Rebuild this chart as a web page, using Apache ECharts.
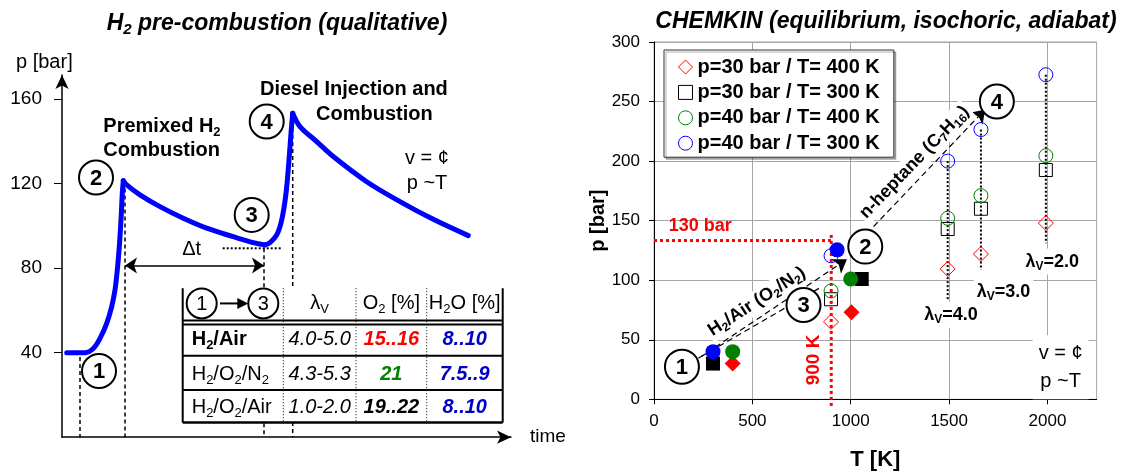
<!DOCTYPE html>
<html><head><meta charset="utf-8">
<script src="https://cdn.jsdelivr.net/npm/echarts@6/dist/echarts.min.js"></script>
<style>html,body{margin:0;padding:0;background:#fff}#c{width:1127px;height:472px}</style>
</head><body><div id="c"></div>
<script>
// ===================== DATA =====================
// Left panel: qualitative pressure trace (time in arbitrary units, p in bar)
const leftYTicks = [40, 80, 120, 160];
const traceTime = [4.7, 23, 31.3, 38, 44.7, 49.7, 53, 55.3, 57.3, 59, 60.3, 61.3,
  64.7, 78, 98, 121.3, 144.7, 171.3, 191.3, 203,
  208, 214.7, 219.7, 224, 227, 229, 230.7,
  238, 254.7, 271.3, 304.7, 338, 371.3, 406.3];
const tracePressure = [40, 40, 42, 46.8, 53.9, 61.8, 69.7, 79.1, 90.2, 102.8, 115.4, 121.4,
  119.4, 114.7, 109.1, 103.6, 98.9, 94.9, 92.1, 91,
  92.1, 95.7, 102.8, 115.4, 131.2, 143.9, 153.3,
  147, 139.9, 132.8, 120.9, 111.5, 103.1, 95.4];
// trace segments: 1->2, 2->3, 3->4, after 4 (index of first/last point)
const traceSegments = [[0, 11], [11, 19], [19, 26], [26, 33]];
const stageLabels = ['1', '2', '3', '4'];
const leftStageT = [37, 34, 189.7, 204.7];
const leftStageP = [31.3, 122.9, 105.2, 149.4];
const eventT = [18, 63, 202, 230.7];
const eventTopP = [38, 121, 89.4, 153];
const dtLevelP = 81.2;
const state3P = 89.4;
const state3LineT = [160.7, 219.7];
const leftNoteText = ['Premixed H_{2}\nCombustion', 'Diesel Injection and', 'Combustion', 'v = ¢\np ~T', 'Δt'];
const leftNoteT = [41.3, 198, 254, 365, 129.7];
const leftNoteP = [141.3, 164.4, 152.5, 125.8, 88.6];

// Table
const tableHead = ['λ_{V}', 'O_{2} [%]', 'H_{2}O [%]'];
const tableMix = ['H_{2}/Air', 'H_{2}/O_{2}/N_{2}', 'H_{2}/O_{2}/Air'];
const tableLambda = ['4.0-5.0', '4.3-5.3', '1.0-2.0'];
const tableO2 = ['15..16', '21', '19..22'];
const tableH2O = ['8..10', '7.5..9', '8..10'];

// Right panel: CHEMKIN results
const groupNames = ['p=30 bar / T= 400 K', 'p=30 bar / T= 300 K', 'p=40 bar / T= 400 K', 'p=40 bar / T= 300 K'];
const openT = [900, 1493, 1662, 1992];
const openP = [
  [65, 109.5, 122, 148],
  [84, 143, 160, 192.5],
  [91, 152, 171, 204.5],
  [120.5, 200, 226.5, 272.5]
];
const filledT = [[400, 1004], [300, 1056], [400, 1000], [300, 931]];
const filledP = [[30, 73], [30, 101], [40, 101], [40, 125.5]];
const xTicks = [0, 500, 1000, 1500, 2000];
const yTicks = [0, 50, 100, 150, 200, 250, 300];
const lambdaT = [1493, 1662, 1992];
const lambdaTopP = [200, 226.5, 272.5];
const lambdaBottomP = [83, 108.7, 131];
const rightStageT = [142, 1074, 760, 1743];
const rightStageP = [27.4, 128.2, 79.2, 250];
const rightNoteText = ['130 bar', '900 K', 'H_{2}/Air (O_{2}/N_{2})', 'n-heptane (C_{7}H_{16})', 'λ_{V}=4.0', 'λ_{V}=3.0', 'λ_{V}=2.0', 'v = ¢\np ~T'];
const rightNoteT = [235, 811, 523, 1324, 1510, 1777, 2025, 2067];
const rightNoteP = [145.6, 33, 82, 199, 71, 90.4, 115.6, 27];
const limitP = 133.3, limitT = 901;
const arrowA = [[226, 34.4], [981, 117.6]];
const lineB = [[240, 36], [854, 94.6]];
const arrowC = [[1116, 145], [1684, 243.4]];

// ===================== RENDER =====================
const FONT = '"Liberation Sans", Arial, Helvetica, sans-serif';
const chart = echarts.init(document.getElementById('c'));

function richify(str) {
  let out = '', last = 0, m;
  const re = /_\{([^}]*)\}/g;
  while ((m = re.exec(str))) {
    if (m.index > last) out += '{b|' + str.slice(last, m.index) + '}';
    out += '{s|' + m[1] + '}';
    last = re.lastIndex;
  }
  if (last < str.length) out += '{b|' + str.slice(last) + '}';
  return out;
}
function rich(size, weight, style, color, lh) {
  const L = lh || size + 4;
  return {
    b: {fontSize: size, fontWeight: weight, fontStyle: style, fontFamily: FONT, fill: color, lineHeight: L},
    s: {fontSize: Math.round(size * 0.66), fontWeight: weight, fontStyle: style, fontFamily: FONT, fill: color, lineHeight: L, padding: [Math.round(size * 0.55), 0, 0, 0]}
  };
}
function textEl(pt, str, opt) {
  return {
    type: 'text', x: pt[0], y: pt[1], rotation: (opt.rot || 0) * Math.PI / 180,
    style: {
      text: richify(str), rich: rich(opt.size, opt.weight || 'normal', opt.style || 'normal', opt.color || '#000', opt.lh),
      align: opt.align || 'center', verticalAlign: 'middle',
      backgroundColor: opt.bg || null, padding: opt.pad || 0
    }
  };
}
function circledNumbers(xAxisIndex, yAxisIndex, ts, ps) {
  return {
    type: 'custom', xAxisIndex: xAxisIndex, yAxisIndex: yAxisIndex, z: 9, clip: false,
    data: ts.map((t, i) => [t, ps[i]]),
    renderItem: (params, api) => {
      const pt = api.coord([api.value(0), api.value(1)]);
      return {type: 'group', children: [
        {type: 'circle', shape: {cx: pt[0], cy: pt[1], r: 17}, style: {fill: '#fff', stroke: '#000', lineWidth: 2}},
        {type: 'text', x: pt[0], y: pt[1] + 1, style: {text: stageLabels[params.dataIndex], fontSize: 22, fontWeight: 'bold', fontFamily: FONT, fill: '#000', align: 'center', verticalAlign: 'middle'}}
      ]};
    }
  };
}

const colors = ['#ff0000', '#000000', '#008000', '#0000ff'];
const symbols = ['diamond', 'rect', 'circle', 'circle'];
const openSize = [[15, 15], [13, 13], [14, 14], [14, 14]];
const fillSize = [[16, 16], [14, 14], [15, 15], [15, 15]];

const series = [];
// ---------- Left panel ----------
eventT.forEach((t, i) => series.push({
  type: 'line', xAxisIndex: 0, yAxisIndex: 0, symbol: 'none', z: 2, silent: true,
  data: [[t, eventTopP[i]], [t, 0]],
  lineStyle: {color: '#000', width: 1.5, type: [4, 3]}
}));
series.push({
  type: 'line', xAxisIndex: 0, yAxisIndex: 0, symbol: 'none', z: 2,
  data: [[state3LineT[0], state3P], [state3LineT[1], state3P]],
  lineStyle: {color: '#000', width: 2, type: [2, 2]}
});
series.push({
  type: 'lines', coordinateSystem: 'cartesian2d', xAxisIndex: 0, yAxisIndex: 0, z: 3,
  symbol: ['arrow', 'arrow'], symbolSize: [12, 12],
  data: [{coords: [[eventT[1], dtLevelP], [eventT[2], dtLevelP]]}],
  lineStyle: {color: '#000', width: 1.5, opacity: 1}
});
traceSegments.forEach(([a, b]) => series.push({
  type: 'line', xAxisIndex: 0, yAxisIndex: 0, symbol: 'none', z: 4, smooth: 0.35,
  data: traceTime.slice(a, b + 1).map((t, i) => [t, tracePressure[a + i]]),
  lineStyle: {color: '#0000ff', width: 5, join: 'round', cap: 'round'}
}));
series.push({
  type: 'custom', xAxisIndex: 0, yAxisIndex: 0, z: 6,
  data: leftNoteT.map((t, i) => [t, leftNoteP[i]]),
  renderItem: (params, api) => {
    const i = params.dataIndex;
    const pt = api.coord([api.value(0), api.value(1)]);
    const spec = [
      {size: 20, weight: 'bold', align: 'left', lh: 24},
      {size: 20, weight: 'bold', align: 'left'},
      {size: 20, weight: 'bold', align: 'left'},
      {size: 20, align: 'center', lh: 25},
      {size: 20, align: 'center'}
    ][i];
    return textEl(pt, leftNoteText[i], spec);
  }
});
// Table
const tColT = [120.7, 221.3, 294, 364.7, 440.7];
const tLineP = [70.5, 55.2, 53.3, 38.6, 22.3, 6.9];
const tHeadP = 63.3, tRowP = [46.2, 29.7, 13.9];
series.push({
  type: 'custom', xAxisIndex: 0, yAxisIndex: 0, z: 8,
  data: [[tColT[0], tLineP[0]]],
  renderItem: (params, api) => {
    const c = (t, p) => api.coord([t, p]);
    const ch = [];
    const tl = c(tColT[0], tLineP[0]), br = c(tColT[4], tLineP[5]);
    ch.push({type: 'rect', shape: {x: tl[0], y: tl[1], width: br[0] - tl[0], height: br[1] - tl[1]}, style: {fill: '#fff'}});
    const hline = (p, w) => {const a = c(tColT[0], p), b = c(tColT[4], p); ch.push({type: 'line', shape: {x1: a[0], y1: a[1], x2: b[0], y2: b[1]}, style: {stroke: '#000', lineWidth: w}});};
    const vline = (t, w, dash) => {const a = c(t, tLineP[0]), b = c(t, tLineP[5]); ch.push({type: 'line', shape: {x1: a[0], y1: a[1], x2: b[0], y2: b[1]}, style: {stroke: '#000', lineWidth: w, lineDash: dash || null}});};
    hline(tLineP[1], 2); hline(tLineP[2], 2); hline(tLineP[3], 2); hline(tLineP[4], 2); hline(tLineP[5], 2.5);
    vline(tColT[0], 2); vline(tColT[4], 2);
    vline(tColT[1], 1, [1, 2]); vline(tColT[2], 1, [1, 2]); vline(tColT[3], 1, [1, 2]);
    // header: (1) -> (3)
    const c1 = c(139.7, tHeadP), c3 = c(201.3, tHeadP);
    [[c1, '1'], [c3, '3']].forEach(([pt, s]) => {
      ch.push({type: 'circle', shape: {cx: pt[0], cy: pt[1], r: 15}, style: {fill: '#fff', stroke: '#000', lineWidth: 2}});
      ch.push({type: 'text', x: pt[0], y: pt[1] + 1, style: {text: s, fontSize: 20, fontFamily: FONT, fill: '#000', align: 'center', verticalAlign: 'middle'}});
    });
    const a0 = c(158, tHeadP), a1 = c(186.3, tHeadP);
    ch.push({type: 'line', shape: {x1: a0[0], y1: a0[1], x2: a1[0] - 9, y2: a1[1]}, style: {stroke: '#000', lineWidth: 2}});
    ch.push({type: 'polygon', shape: {points: [[a1[0], a1[1]], [a1[0] - 11, a1[1] - 5.5], [a1[0] - 11, a1[1] + 5.5]]}, style: {fill: '#000'}});
    const centers = [(tColT[1] + tColT[2]) / 2, (tColT[2] + tColT[3]) / 2, (tColT[3] + tColT[4]) / 2];
    tableHead.forEach((h, j) => ch.push(textEl(c(centers[j], tHeadP), h, {size: 20})));
    tableMix.forEach((m, r) => ch.push(textEl(c(tColT[0] + 9, tRowP[r]), m, {size: 20, weight: r === 0 ? 'bold' : 'normal', align: 'left'})));
    tableLambda.forEach((v, r) => ch.push(textEl(c(centers[0], tRowP[r]), v, {size: 20, style: 'italic'})));
    const o2c = ['#ff0000', '#008000', '#000000'];
    tableO2.forEach((v, r) => ch.push(textEl(c(centers[1], tRowP[r]), v, {size: 20, style: 'italic', weight: 'bold', color: o2c[r]})));
    tableH2O.forEach((v, r) => ch.push(textEl(c(centers[2], tRowP[r]), v, {size: 20, style: 'italic', weight: 'bold', color: '#0000cc'})));
    return {type: 'group', children: ch};
  }
});
series.push(circledNumbers(0, 0, leftStageT, leftStageP));

// ---------- Right panel ----------
lambdaT.forEach((t, i) => series.push({
  type: 'line', xAxisIndex: 1, yAxisIndex: 1, symbol: 'none', z: 2,
  data: [[t, lambdaTopP[i]], [t, lambdaBottomP[i]]],
  lineStyle: {color: '#000', width: 2, type: [2, 2]}
}));
series.push({
  type: 'line', xAxisIndex: 1, yAxisIndex: 1, symbol: 'none', z: 2, clip: false,
  data: [[0, limitP], [912, limitP]],
  lineStyle: {color: '#ff0000', width: 3, type: [3, 3]}
});
series.push({
  type: 'line', xAxisIndex: 1, yAxisIndex: 1, symbol: 'none', z: 2, clip: false,
  data: [[limitT, 138], [limitT, -7]],
  lineStyle: {color: '#ff0000', width: 3, type: [3, 3]}
});
series.push({
  type: 'lines', coordinateSystem: 'cartesian2d', xAxisIndex: 1, yAxisIndex: 1, z: 3,
  symbol: ['none', 'arrow'], symbolSize: [11, 13],
  data: [{coords: arrowA}, {coords: arrowC}],
  lineStyle: {color: '#000', width: 1.2, type: [6, 4], opacity: 1}
});
series.push({
  type: 'lines', coordinateSystem: 'cartesian2d', xAxisIndex: 1, yAxisIndex: 1, z: 3,
  symbol: ['none', 'none'],
  data: [{coords: lineB}],
  lineStyle: {color: '#000', width: 1.2, type: [6, 4], opacity: 1}
});
groupNames.forEach((n, g) => {
  series.push({
    name: n, type: 'scatter', xAxisIndex: 1, yAxisIndex: 1, z: 5,
    symbol: symbols[g], symbolSize: openSize[g],
    data: openT.map((t, i) => [t, openP[g][i]]),
    itemStyle: {color: 'rgba(255,255,255,0)', borderColor: colors[g], borderWidth: 1, opacity: 1}
  });
  series.push({
    name: n + ' (2)', type: 'scatter', xAxisIndex: 1, yAxisIndex: 1, z: 5,
    symbol: symbols[g], symbolSize: fillSize[g],
    data: filledT[g].map((t, i) => [t, filledP[g][i]]),
    itemStyle: {color: colors[g], opacity: 1}
  });
});
series.push({
  type: 'custom', xAxisIndex: 1, yAxisIndex: 1, z: 6,
  data: rightNoteT.map((t, i) => [t, rightNoteP[i]]),
  renderItem: (params, api) => {
    const i = params.dataIndex;
    const pt = api.coord([api.value(0), api.value(1)]);
    const spec = [
      {size: 18, weight: 'bold', color: '#ff0000'},
      {size: 19, weight: 'bold', color: '#ff0000', rot: 90},
      {size: 18, weight: 'bold', rot: 33, bg: '#fff', pad: [0, 2]},
      {size: 18, weight: 'bold', rot: 46, bg: '#fff', pad: [0, 2]},
      {size: 18, weight: 'bold', bg: '#fff', pad: [2, 3]},
      {size: 18, weight: 'bold', bg: '#fff', pad: [2, 3]},
      {size: 18, weight: 'bold', bg: '#fff', pad: [2, 3]},
      {size: 20, bg: '#fff', pad: [4, 6], lh: 28}
    ][i];
    return textEl(pt, rightNoteText[i], spec);
  }
});
series.push(circledNumbers(1, 1, rightStageT, rightStageP));

const titleRich = (size) => ({
  b: {fontSize: size, fontWeight: 'bold', fontStyle: 'italic', fontFamily: FONT, color: '#000'},
  s: {fontSize: Math.round(size * 0.66), fontWeight: 'bold', fontStyle: 'italic', fontFamily: FONT, color: '#000', padding: [12, 0, 0, 0]}
});

chart.setOption({
  animation: false,
  backgroundColor: '#fff',
  textStyle: {fontFamily: FONT},
  title: [
    {text: '{b|H}{s|2}{b| pre-combustion (qualitative)}', left: 277, top: 10, textAlign: 'center', padding: 0,
      textStyle: {rich: titleRich(23)}},
    {text: '{b|CHEMKIN (equilibrium, isochoric, adiabat)}', left: 886, top: 10, textAlign: 'center', padding: 0,
      textStyle: {rich: titleRich(23)}},
    {text: 'p [bar]', left: 16, top: 52, padding: 0, textStyle: {fontSize: 20, fontWeight: 'normal', fontFamily: FONT, color: '#000'}}
  ],
  legend: {
    data: groupNames, orient: 'vertical', left: 664, top: 50,
    itemWidth: 14, itemHeight: 14, itemGap: 5.4, padding: [7, 14, 4, 14],
    backgroundColor: '#fff', borderColor: '#333', borderWidth: 1, borderRadius: 0,
    shadowColor: 'rgba(0,0,0,0.3)', shadowOffsetX: 2, shadowOffsetY: 2, shadowBlur: 0,
    selectedMode: false,
    itemStyle: {borderWidth: 1},
    textStyle: {fontSize: 20, fontWeight: 'bold', color: '#000', fontFamily: FONT, lineHeight: 18}
  },
  grid: [
    {left: 62, top: 75, width: 449, height: 362.2, show: false, outerBoundsMode: 'none', containLabel: false},
    {left: 654, top: 42, width: 442.6, height: 357.3, show: true, borderColor: '#a6a6a6', borderWidth: 1, backgroundColor: '#fff', outerBoundsMode: 'none', containLabel: false}
  ],
  xAxis: [
    {gridIndex: 0, type: 'value', min: 0, max: 449,
      axisLine: {show: true, lineStyle: {color: '#000', width: 1.5}, symbol: ['none', 'arrow'], symbolSize: [10, 14]},
      axisTick: {show: false}, axisLabel: {show: false}, splitLine: {show: false},
      name: 'time', nameLocation: 'end', nameGap: 19, nameTextStyle: {fontSize: 19, color: '#000', fontFamily: FONT, verticalAlign: 'middle'}},
    {gridIndex: 1, type: 'value', min: 0, max: 2250, interval: 500,
      axisLine: {show: true, onZero: false, lineStyle: {color: '#000', width: 1}},
      axisTick: {show: true, length: 5, customValues: xTicks, lineStyle: {color: '#000'}},
      axisLabel: {customValues: xTicks, formatter: v => String(v), fontSize: 17, color: '#000', margin: 14, fontFamily: FONT},
      splitLine: {show: true, lineStyle: {color: '#a6a6a6', width: 1}},
      name: 'T [K]', nameLocation: 'middle', nameGap: 50, nameTextStyle: {fontSize: 22, fontWeight: 'bold', color: '#000', fontFamily: FONT}}
  ],
  yAxis: [
    {gridIndex: 0, type: 'value', min: 0, max: 171.4,
      axisLine: {show: true, lineStyle: {color: '#000', width: 1.5}, symbol: ['none', 'arrow'], symbolSize: [10, 14]},
      axisTick: {show: true, length: 8, customValues: leftYTicks, lineStyle: {color: '#000', width: 1}},
      axisLabel: {customValues: leftYTicks, formatter: v => String(v), fontSize: 19, color: '#000', margin: 20, fontFamily: FONT},
      splitLine: {show: false}},
    {gridIndex: 1, type: 'value', min: 0, max: 300, interval: 50,
      axisLine: {show: true, onZero: false, lineStyle: {color: '#000', width: 1}},
      axisTick: {show: true, length: 5, customValues: yTicks, lineStyle: {color: '#000'}},
      axisLabel: {customValues: yTicks, formatter: v => String(v), fontSize: 17, color: '#000', margin: 14, fontFamily: FONT},
      splitLine: {show: true, lineStyle: {color: '#a6a6a6', width: 1}},
      name: 'p [bar]', nameLocation: 'middle', nameRotate: 90, nameGap: 46, nameMoveOverlap: false,
      nameTextStyle: {fontSize: 20, fontWeight: 'bold', color: '#000', fontFamily: FONT}}
  ],
  series: series
});
</script>
</body></html>
